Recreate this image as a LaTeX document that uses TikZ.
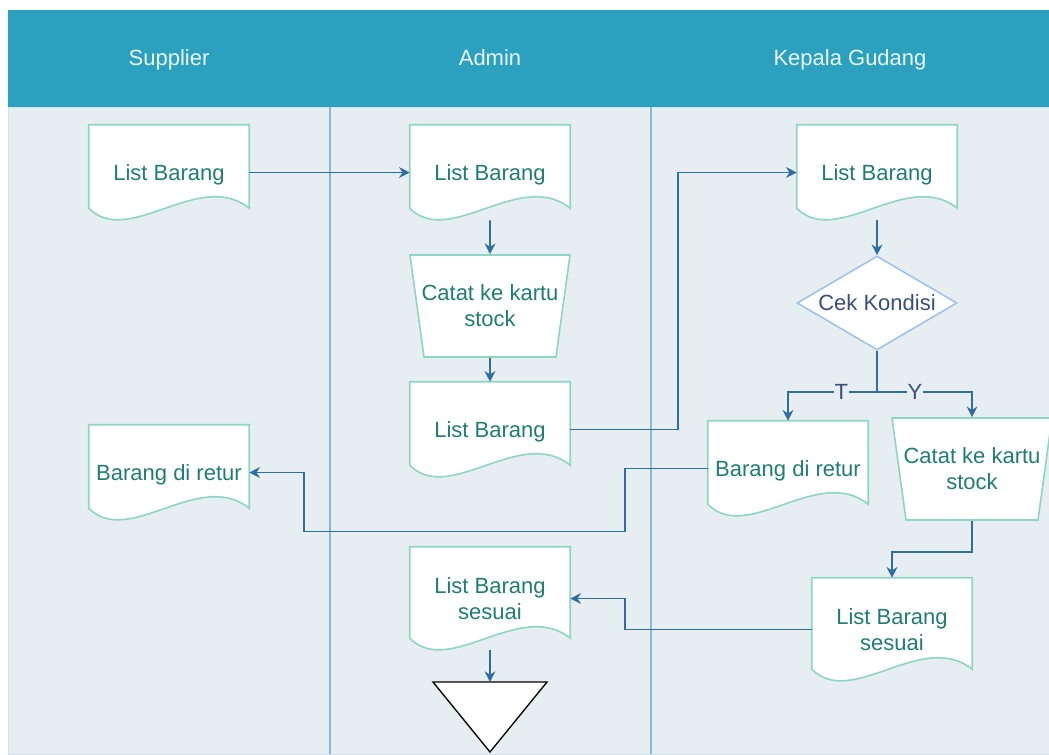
\documentclass[tikz,border=0pt]{standalone}
\usepackage{fontspec}
\setmainfont{Liberation Sans}
\usetikzlibrary{shapes.geometric,arrows.meta,calc}
\definecolor{headc}{HTML}{2BA1BF}
\definecolor{bgc}{HTML}{E7EEF2}
\definecolor{lanec}{HTML}{8BB9D3}
\definecolor{arrc}{HTML}{2F6DA3}
\definecolor{docc}{HTML}{8ED5C2}
\definecolor{doctc}{HTML}{1F7D76}
\definecolor{cekc}{HTML}{9EC3EC}
\definecolor{cektc}{HTML}{3A4E7E}
\pgfdeclarelayer{back}
\pgfdeclarelayer{docs}
\pgfsetlayers{back,docs,main}
\begin{document}
\begin{tikzpicture}[x=0.75pt,y=-0.75pt,>={Stealth[length=8pt,width=8pt]},
        font=\fontsize{16.5}{19.5}\selectfont,
        head/.style={text=white!90!headc,text depth=0pt},
        doc/.style={minimum width=120pt,minimum height=71.25pt,inner sep=0pt,align=center,text depth=0pt,text=doctc},
        doc2/.style={doc,minimum height=77.25pt},
        trap/.style={trapezium,trapezium left angle=108.4,trapezium right angle=108.4,trapezium stretches body,minimum width=120pt,minimum height=76.5pt,inner sep=0pt,draw=docc,line width=1.2pt,fill=white,text=doctc,align=center},
        cek/.style={diamond,aspect=1.7,minimum width=120pt,minimum height=70.5pt,inner sep=0pt,draw=cekc,line width=1.2pt,fill=white,text=cektc},
        lbl/.style={fill=bgc,inner sep=0.5pt,text=cektc},
        arr/.style={->,arrc,line width=1.4pt},]
        \useasboundingbox (0,0) rectangle (1049,754);
        \begin{pgfonlayer}{back}
        \fill[headc] (8,10) rectangle (1049,107);
        \filldraw[fill=bgc,draw=lanec!40] (8,107) rectangle (1049,754);
        \draw[lanec,line width=0.8pt] (330,107) -- (330,754) (651,107) -- (651,754);
        \end{pgfonlayer}
        \node[head] (H1) at (169,58) {Supplier};
        \node[head] (H2) at (490,58) {Admin};
        \node[head] (H3) at (850,58) {Kepala Gudang};
        \node[doc] (S1) at (169,172.5) {List Barang};
        \node[doc] (S2) at (169,472.5) {Barang di retur};
        \node[doc] (A1) at (490,172.5) {List Barang};
        \node[trap] (A2) at (490,306) {\makebox[0pt]{Catat ke kartu}\\stock};
        \node[doc] (A3) at (490,429.5) {List Barang};
        \node[doc2] (A4) at (490,598.5) {List Barang\\sesuai};
        \node[doc] (K1) at (877,172.5) {List Barang};
        \node[cek] (K2) at (877,303) {Cek Kondisi};
        \node[doc] (K3) at (788,468.5) {Barang di retur};
        \node[trap] (K4) at (972,469) {\makebox[0pt]{Catat ke kartu}\\stock};
        \node[doc2] (K5) at (892,629.5) {List Barang\\sesuai};
        \begin{pgfonlayer}{docs}
        \foreach \n in {S1,S2,A1,A3,A4,K1,K3,K5}
            \filldraw[fill=white,draw=docc,line width=1.2pt] ($(\n.south west)+(0,-12)$) |- (\n.north east) -- ($(\n.south east)+(0,-12)$) .. controls +(-50,-40) and +(40,40) .. ($(\n.south west)+(0,-12)$) -- cycle;
        \end{pgfonlayer}
        \filldraw[fill=white,draw=black,line width=1pt] (433,682) -- (547,682) -- (490,752) -- cycle;
        \coordinate (E) at (490,682);
        \draw[arr] (S1) -- (A1);
        \draw[arr] (A1) -- (A2);
        \draw[arr] (A2) -- (A3);
        \draw[arr] (A3.east) -- ++(108,0) |- (K1);
        \draw[arr] (K1) -- (K2);
        \draw[arr] (K2.south) -- ++(0,41) -| node[lbl,pos=0.2] {T} (K3);
        \draw[arr] (K2.south) -- ++(0,41) -| node[lbl,pos=0.2] {Y} (K4);
        \draw[arr] (K3.west) -- ++(-83,0) -- ++(0,63) -| ($(S2.east)+(55,0)$) -- (S2.east);
        \draw[arr] (K4.south) -- ++(0,31) -| (K5);
        \draw[arr] (K5.west) -- ++(-187,0) |- (A4);
        \draw[arr] (A4) -- (E);
\end{tikzpicture}
\end{document}
